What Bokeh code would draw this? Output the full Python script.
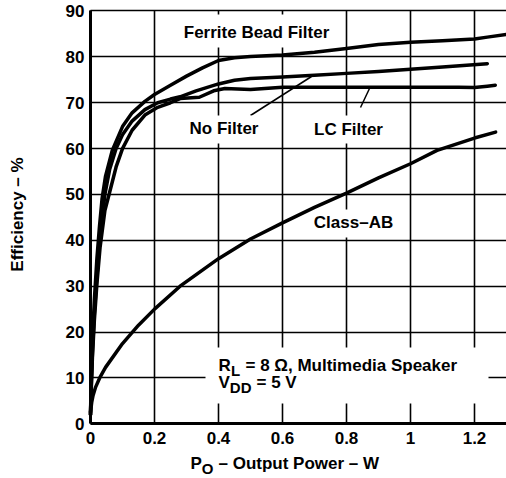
import math
from bokeh.plotting import figure
from bokeh.models import Label, BoxAnnotation, FixedTicker, Range1d
from bokeh.embed import file_html
from bokeh.resources import INLINE

# ---------------- data ----------------
ferrite_x = [0, 0.002, 0.006, 0.012, 0.02, 0.028, 0.036, 0.047, 0.068, 0.1, 0.13, 0.17, 0.2,
             0.25, 0.3, 0.35, 0.4, 0.45, 0.5, 0.6, 0.7, 0.8, 0.9, 1.0, 1.1, 1.2, 1.24, 1.3]
ferrite_y = [2, 9, 18, 27, 36, 43, 49, 54, 59.6, 64.8, 67.8, 70.3, 71.8,
             73.8, 75.8, 77.6, 79.2, 79.8, 80.1, 80.4, 81.0, 81.8, 82.7, 83.2, 83.5, 83.9, 84.3, 84.9]

nofilter_x = [0, 0.002, 0.006, 0.012, 0.02, 0.03, 0.045, 0.06, 0.08, 0.1, 0.13, 0.17, 0.21,
              0.25, 0.28, 0.33, 0.4, 0.45, 0.5, 0.6, 0.7, 0.8, 0.9, 1.0, 1.1, 1.24]
nofilter_y = [2, 7.5, 15.5, 24, 32, 41, 50, 55.5, 60, 63, 66, 68.5, 70,
              70.8, 71.3, 72.6, 74.1, 74.9, 75.3, 75.6, 76.0, 76.4, 76.8, 77.3, 77.8, 78.5]

lc_x = [0, 0.002, 0.006, 0.012, 0.02, 0.03, 0.045, 0.058, 0.08, 0.1, 0.13, 0.17, 0.21,
        0.25, 0.28, 0.34, 0.385, 0.42, 0.5, 0.6, 0.8, 1.0, 1.15, 1.2, 1.24, 1.265]
lc_y = [2, 7, 14.5, 22.5, 30.5, 38.5, 46.5, 50, 56, 60, 64, 67.3, 69,
        70, 70.9, 71.2, 72.6, 73.1, 72.9, 73.4, 73.4, 73.4, 73.4, 73.3, 73.6, 73.8]

classab_x = [0, 0.004, 0.008, 0.016, 0.03, 0.047, 0.1, 0.15, 0.2, 0.28, 0.4, 0.5, 0.6, 0.7,
             0.8, 0.9, 1.0, 1.083, 1.2, 1.266]
classab_y = [2.5, 4.8, 6.2, 8, 10.2, 12.3, 17.5, 21.5, 25, 30, 36, 40.3, 43.8, 47.2,
             50.3, 53.6, 56.7, 59.6, 62.3, 63.6]

x_ticks = [0, 0.2, 0.4, 0.6, 0.8, 1.0, 1.2]
x_tick_labels = ["0", "0.2", "0.4", "0.6", "0.8", "1", "1.2"]
y_ticks = [0, 10, 20, 30, 40, 50, 60, 70, 80, 90]
y_tick_labels = ["0", "10", "20", "30", "40", "50", "60", "70", "80", "90"]

X_MAX = 1.3
Y_MAX = 90

# ---------------- layout ----------------
W, H = 506, 478
FONT = "Liberation Sans"
FS = "17px"
SUBFS = "15px"

# page pixel <-> data mapping (plot area: x=0 at px 90, 320 px per unit;
# y=0 at px 423.3, 4.5867 px per unit)
X_PX0, X_SC = 90.0, 320.0
Y_PX0, Y_SC = 423.3, 4.5867


def dx(px):
    return (px - X_PX0) / X_SC


def dy(py):
    return (Y_PX0 - py) / Y_SC


p = figure(width=W, height=H, output_backend="svg", toolbar_location=None,
           x_range=Range1d(dx(0), dx(W)), y_range=Range1d(dy(H), dy(0)))
p.min_border = 0
p.outline_line_color = None
p.background_fill_color = "white"
p.border_fill_color = "white"

xa, ya = p.xaxis[0], p.yaxis[0]
xa.fixed_location = 0
ya.fixed_location = 0
xa.bounds = (0, X_MAX)
ya.bounds = (0, Y_MAX)
for ax in (xa, ya):
    ax.axis_line_width = 3
    ax.axis_line_color = "black"
    ax.major_tick_in = 0
    ax.major_tick_out = 0
    ax.minor_tick_in = 0
    ax.minor_tick_out = 0
    ax.major_label_text_font = FONT
    ax.major_label_text_font_style = "bold"
    ax.major_label_text_font_size = FS
    ax.major_label_text_color = "black"

xa.ticker = FixedTicker(ticks=x_ticks)
ya.ticker = FixedTicker(ticks=y_ticks)
xa.major_label_overrides = dict(zip(x_ticks, x_tick_labels))
ya.major_label_overrides = dict(zip(y_ticks, y_tick_labels))
xa.major_label_standoff = 8
ya.major_label_standoff = 6

xg, yg = p.xgrid[0], p.ygrid[0]
xg.ticker = FixedTicker(ticks=x_ticks)
yg.ticker = FixedTicker(ticks=y_ticks)
xg.bounds = (0, X_MAX)
xg.cross_bounds = (0, Y_MAX)
yg.bounds = (0, Y_MAX)
yg.cross_bounds = (0, X_MAX)
for g in (xg, yg):
    g.grid_line_color = "black"
    g.grid_line_width = 1.6
    g.grid_line_alpha = 1.0

# ---------------- label backgrounds (break the grid) ----------------
boxes = [
    (175, 337, 14, 47),    # Ferrite Bead Filter
    (184, 263, 115, 143),  # No Filter
    (307, 389, 115, 143),  # LC Filter
    (308, 398, 209, 237),  # Class-AB
    (205, 488, 347, 403),  # R_L / V_DD
]
for l, r, t, b in boxes:
    p.add_layout(BoxAnnotation(left=dx(l), right=dx(r), top=dy(t), bottom=dy(b),
                               fill_color="white", fill_alpha=1.0, line_color=None))

# ---------------- curves ----------------
for xs, ys in ((ferrite_x, ferrite_y), (nofilter_x, nofilter_y), (lc_x, lc_y),
               (classab_x, classab_y)):
    r = p.line(xs, ys, line_color="black", line_width=3.5, line_join="round", line_cap="round")
    r.level = "overlay"

# leader lines
p.segment(x0=[dx(250), dx(360)], y0=[dy(115), dy(107)],
          x1=[dx(311), dx(369)], y1=[dy(76), dy(88)],
          line_color="black", line_width=1.5)


def lab(text, px, py, align="left", size=FS, angle=0.0):
    p.add_layout(Label(x=dx(px), y=dy(py), text=text, text_font=FONT,
                       text_font_style="bold", text_font_size=size, text_color="black",
                       text_align=align, text_baseline="middle", angle=angle))


lab("Ferrite Bead Filter", 256, 31.7, "center")
lab("No Filter", 223.5, 128.3, "center")
lab("LC Filter", 348, 129.3, "center")
lab("Class\u2013AB", 353, 221.7, "center")

lab("R", 218, 365)
lab("L", 230.5, 369.5, size=SUBFS)
lab("= 8 \u03a9, Multimedia Speaker", 245, 365)
lab("V", 218, 382)
lab("DD", 229.3, 387, size=SUBFS)
lab("= 5 V", 256, 382)

# axis titles
lab("P", 190, 463)
lab("O", 201.3, 467.5, size=SUBFS)
lab("\u2013 Output Power \u2013 W", 218, 463)
lab("Efficiency \u2013 %", 17, 214, "center", angle=math.pi / 2)

open("out.html", "w").write(file_html(p, INLINE))
